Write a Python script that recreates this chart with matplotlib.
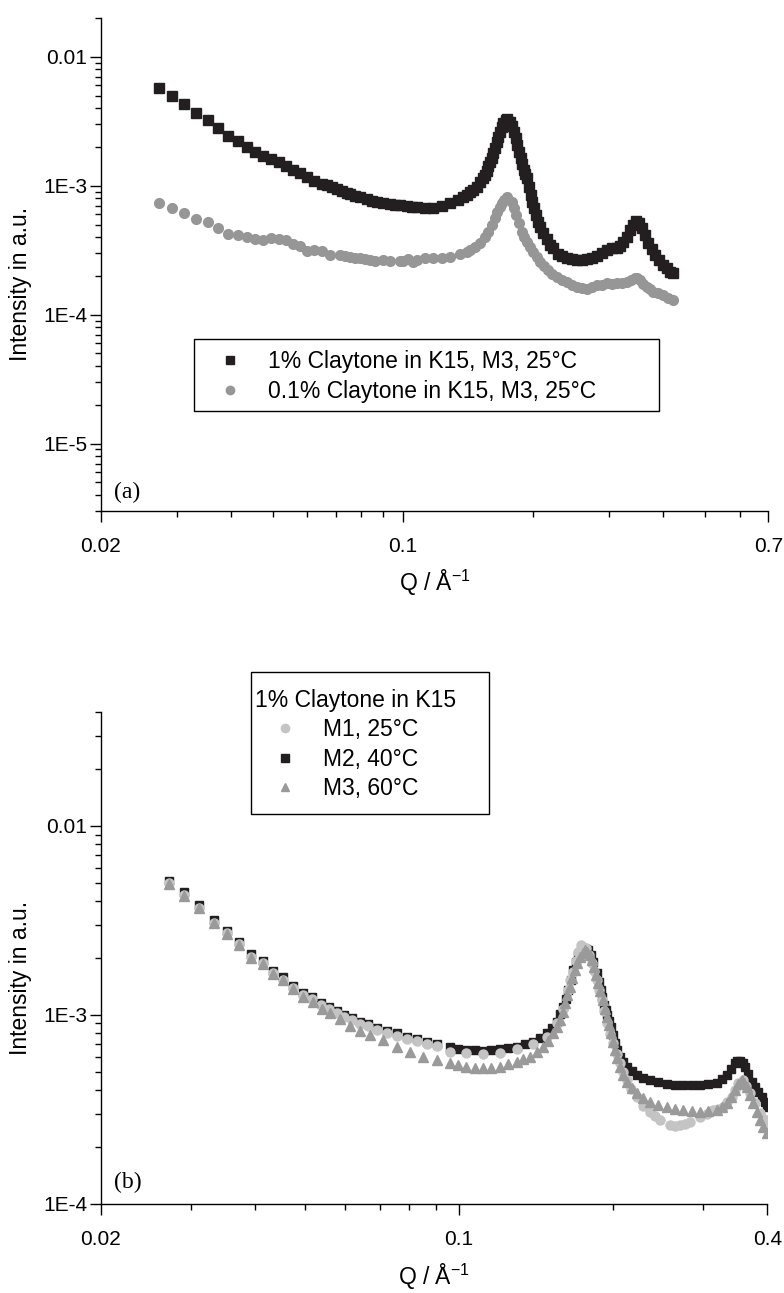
import numpy as np
import matplotlib
matplotlib.use("Agg")
import matplotlib.pyplot as plt
from matplotlib.lines import Line2D
from matplotlib.patches import Rectangle
from matplotlib.ticker import LogLocator, NullFormatter

plt.rcParams['font.family'] = ['Liberation Sans', 'DejaVu Sans']
plt.rcParams['mathtext.fontset'] = 'custom'
plt.rcParams['mathtext.rm'] = 'Liberation Sans'
plt.rcParams['mathtext.default'] = 'regular'

# ---- panel (a): 1% and 0.1% Claytone in K15, M3, 25 C ----
q_a1 = [0.0273, 0.0292, 0.0311, 0.0331, 0.0353, 0.0373, 0.0393, 0.0414, 0.0435, 0.0455,
        0.0475, 0.0495, 0.0515, 0.0536, 0.0557, 0.0577, 0.0598, 0.0622, 0.0648, 0.0665,
        0.0683, 0.0702, 0.0721, 0.0740, 0.0753, 0.0774, 0.0795, 0.0823, 0.0845, 0.0868,
        0.0899, 0.0932, 0.0957, 0.0983, 0.1019, 0.1046, 0.1074, 0.1123, 0.1174, 0.1228,
        0.1283, 0.1341, 0.1378, 0.1403, 0.1427, 0.1453, 0.1479, 0.1506, 0.1533, 0.1545,
        0.1561, 0.1574, 0.1588, 0.1603, 0.1616, 0.1631, 0.1646, 0.1660, 0.1675, 0.1690,
        0.1705, 0.1729, 0.1742, 0.1766, 0.1786, 0.1804, 0.1821, 0.1837, 0.1854, 0.1870,
        0.1887, 0.1904, 0.1917, 0.1931, 0.1951, 0.1972, 0.1990, 0.2007, 0.2029, 0.2054,
        0.2073, 0.2109, 0.2148, 0.2186, 0.2226, 0.2285, 0.2335, 0.2390, 0.2454, 0.2520,
        0.2588, 0.2658, 0.2729, 0.2804, 0.2879, 0.2957, 0.3036, 0.3119, 0.3173, 0.3231,
        0.3289, 0.3347, 0.3406, 0.3456, 0.3506, 0.3563, 0.3625, 0.3690, 0.3757, 0.3824,
        0.3914, 0.3996, 0.4070, 0.4142, 0.4216]
i_a1 = [5.77e-3, 4.98e-3, 4.31e-3, 3.65e-3, 3.22e-3, 2.79e-3, 2.45e-3, 2.24e-3, 2.01e-3, 1.83e-3,
        1.70e-3, 1.62e-3, 1.52e-3, 1.41e-3, 1.32e-3, 1.25e-3, 1.16e-3, 1.09e-3, 1.04e-3, 1.01e-3,
        9.77e-4, 9.43e-4, 9.15e-4, 8.83e-4, 8.57e-4, 8.37e-4, 8.12e-4, 7.84e-4, 7.65e-4, 7.47e-4,
        7.30e-4, 7.17e-4, 7.08e-4, 7.04e-4, 6.91e-4, 6.87e-4, 6.80e-4, 6.71e-4, 6.75e-4, 6.95e-4,
        7.30e-4, 7.74e-4, 8.17e-4, 8.47e-4, 8.88e-4, 9.26e-4, 9.82e-4, 1.06e-3, 1.14e-3, 1.21e-3,
        1.30e-3, 1.41e-3, 1.54e-3, 1.63e-3, 1.78e-3, 1.95e-3, 2.20e-3, 2.40e-3, 2.63e-3, 2.87e-3,
        3.05e-3, 3.24e-3, 3.30e-3, 3.14e-3, 2.93e-3, 2.63e-3, 2.33e-3, 2.07e-3, 1.84e-3, 1.63e-3,
        1.47e-3, 1.32e-3, 1.23e-3, 1.14e-3, 9.83e-4, 8.47e-4, 7.51e-4, 6.67e-4, 5.92e-4, 5.25e-4,
        4.80e-4, 4.27e-4, 3.85e-4, 3.46e-4, 3.26e-4, 2.98e-4, 2.84e-4, 2.73e-4, 2.68e-4, 2.65e-4,
        2.65e-4, 2.68e-4, 2.76e-4, 2.86e-4, 3.02e-4, 3.17e-4, 3.26e-4, 3.30e-4, 3.42e-4, 3.67e-4,
        4.02e-4, 4.53e-4, 4.95e-4, 5.32e-4, 5.10e-4, 4.67e-4, 4.14e-4, 3.57e-4, 3.22e-4, 2.89e-4,
        2.65e-4, 2.42e-4, 2.28e-4, 2.15e-4, 2.09e-4]

q_a2 = [0.0273, 0.0292, 0.0311, 0.0331, 0.0353, 0.0373, 0.0393, 0.0414, 0.0435, 0.0455,
        0.0475, 0.0495, 0.0515, 0.0536, 0.0557, 0.0577, 0.0598, 0.0622, 0.0648, 0.0677,
        0.0714, 0.0734, 0.0753, 0.0774, 0.0794, 0.0816, 0.0838, 0.0861, 0.0899, 0.0932,
        0.0983, 0.1001, 0.1028, 0.1055, 0.1074, 0.1123, 0.1174, 0.1228, 0.1283, 0.1353,
        0.1402, 0.1427, 0.1466, 0.1506, 0.1547, 0.1574, 0.1602, 0.1631, 0.1651, 0.1675,
        0.1693, 0.1711, 0.1742, 0.1783, 0.1805, 0.1829, 0.1854, 0.1879, 0.1903, 0.1931,
        0.1965, 0.2000, 0.2036, 0.2073, 0.2117, 0.2167, 0.2214, 0.2264, 0.2326, 0.2390,
        0.2454, 0.2520, 0.2588, 0.2658, 0.2729, 0.2804, 0.2879, 0.2957, 0.3036, 0.3119,
        0.3201, 0.3289, 0.3358, 0.3438, 0.3481, 0.3530, 0.3594, 0.3659, 0.3724, 0.3790,
        0.3893, 0.3996, 0.4107, 0.4216]
i_a2 = [7.38e-4, 6.75e-4, 6.17e-4, 5.51e-4, 5.20e-4, 4.67e-4, 4.19e-4, 4.14e-4, 3.97e-4, 3.83e-4,
        3.79e-4, 3.90e-4, 3.85e-4, 3.79e-4, 3.50e-4, 3.42e-4, 3.11e-4, 3.18e-4, 3.13e-4, 2.89e-4,
        2.89e-4, 2.84e-4, 2.81e-4, 2.76e-4, 2.73e-4, 2.69e-4, 2.65e-4, 2.63e-4, 2.64e-4, 2.63e-4,
        2.61e-4, 2.60e-4, 2.69e-4, 2.57e-4, 2.65e-4, 2.73e-4, 2.73e-4, 2.76e-4, 2.81e-4, 2.93e-4,
        3.07e-4, 3.17e-4, 3.36e-4, 3.57e-4, 4.02e-4, 4.40e-4, 4.95e-4, 5.58e-4, 6.21e-4, 6.87e-4,
        7.30e-4, 7.74e-4, 8.21e-4, 7.52e-4, 6.67e-4, 5.92e-4, 5.10e-4, 4.40e-4, 4.02e-4, 3.67e-4,
        3.36e-4, 3.07e-4, 2.81e-4, 2.57e-4, 2.38e-4, 2.21e-4, 2.08e-4, 1.96e-4, 1.87e-4, 1.79e-4,
        1.71e-4, 1.64e-4, 1.61e-4, 1.59e-4, 1.63e-4, 1.69e-4, 1.71e-4, 1.75e-4, 1.74e-4, 1.75e-4,
        1.77e-4, 1.79e-4, 1.85e-4, 1.93e-4, 1.91e-4, 1.85e-4, 1.74e-4, 1.64e-4, 1.57e-4, 1.50e-4,
        1.46e-4, 1.42e-4, 1.35e-4, 1.29e-4]

labels_a = ["1% Claytone in K15, M3, 25°C", "0.1% Claytone in K15, M3, 25°C"]

# ---- panel (b): 1% Claytone in K15, M1/M2/M3 ----
q_m1 = [0.02718, 0.02908, 0.03111, 0.03323, 0.03519, 0.03713, 0.03919, 0.04148, 0.04338, 0.04538,
        0.04747, 0.04951, 0.05170, 0.05370, 0.05573, 0.05769, 0.05969, 0.06172, 0.06406, 0.06649,
        0.06905, 0.07222, 0.07553, 0.0790, 0.0826, 0.0865, 0.0904, 0.0960, 0.1034, 0.1115,
        0.1202, 0.1296, 0.1396, 0.1483, 0.1550, 0.1597, 0.1633, 0.1650, 0.1670, 0.1689,
        0.1708, 0.1734, 0.1769, 0.1790, 0.1815, 0.1836, 0.1856, 0.1877, 0.1898, 0.1920,
        0.1941, 0.1970, 0.2000, 0.2030, 0.2061, 0.2090, 0.2124, 0.2170, 0.2222, 0.2290,
        0.2358, 0.2410, 0.2467, 0.2580, 0.2640, 0.2700, 0.2760, 0.2823, 0.2953, 0.3050,
        0.3134, 0.3200, 0.3279, 0.3340, 0.3404, 0.3460, 0.3508, 0.3588, 0.3640, 0.3696,
        0.3780, 0.3867, 0.3930, 0.3990]
i_m1 = [4.97e-3, 4.32e-3, 3.70e-3, 3.08e-3, 2.71e-3, 2.37e-3, 2.03e-3, 1.87e-3, 1.66e-3, 1.53e-3,
        1.38e-3, 1.27e-3, 1.21e-3, 1.13e-3, 1.07e-3, 1.02e-3, 9.70e-4, 9.38e-4, 8.93e-4, 8.69e-4,
        8.30e-4, 8.01e-4, 7.76e-4, 7.45e-4, 7.24e-4, 7.00e-4, 6.80e-4, 6.38e-4, 6.25e-4, 6.20e-4,
        6.30e-4, 6.56e-4, 7.00e-4, 7.66e-4, 9.02e-4, 1.08e-3, 1.35e-3, 1.52e-3, 1.69e-3, 1.93e-3,
        2.16e-3, 2.34e-3, 2.25e-3, 2.08e-3, 1.87e-3, 1.70e-3, 1.53e-3, 1.36e-3, 1.20e-3, 1.05e-3,
        9.02e-4, 7.90e-4, 7.06e-4, 6.20e-4, 5.53e-4, 5.00e-4, 4.52e-4, 4.05e-4, 3.68e-4, 3.30e-4,
        3.07e-4, 2.90e-4, 2.77e-4, 2.61e-4, 2.58e-4, 2.61e-4, 2.65e-4, 2.72e-4, 2.89e-4, 3.00e-4,
        3.13e-4, 3.18e-4, 3.26e-4, 3.45e-4, 3.68e-4, 3.98e-4, 4.34e-4, 4.52e-4, 4.20e-4, 3.84e-4,
        3.40e-4, 3.01e-4, 2.80e-4, 2.66e-4]

q_m2 = [0.02718, 0.02908, 0.03111, 0.03323, 0.03519, 0.03713, 0.03919, 0.04148, 0.04338, 0.04538,
        0.04747, 0.04951, 0.05170, 0.05370, 0.05573, 0.05769, 0.05969, 0.06172, 0.06406, 0.06649,
        0.06905, 0.07222, 0.07553, 0.0790, 0.0826, 0.0865, 0.0904, 0.0960, 0.0997, 0.1034,
        0.1074, 0.1115, 0.1157, 0.1202, 0.1247, 0.1296, 0.1344, 0.1396, 0.1438, 0.1483,
        0.1516, 0.1550, 0.1573, 0.1597, 0.1614, 0.1633, 0.1651, 0.1670, 0.1689, 0.1708,
        0.1727, 0.1747, 0.1769, 0.1787, 0.1806, 0.1828, 0.1856, 0.1872, 0.1890, 0.1904,
        0.1918, 0.1932, 0.1947, 0.1962, 0.1977, 0.1994, 0.2015, 0.2036, 0.2061, 0.2092,
        0.2124, 0.2172, 0.2222, 0.2289, 0.2358, 0.2448, 0.2542, 0.2638, 0.2740, 0.2844,
        0.2953, 0.3065, 0.3183, 0.3256, 0.3329, 0.3393, 0.3455, 0.3492, 0.3535, 0.3577,
        0.3614, 0.3668, 0.3725, 0.3781, 0.3837, 0.3897, 0.3954, 0.3990]
i_m2 = [5.13e-3, 4.45e-3, 3.82e-3, 3.18e-3, 2.79e-3, 2.44e-3, 2.09e-3, 1.93e-3, 1.71e-3, 1.58e-3,
        1.42e-3, 1.30e-3, 1.25e-3, 1.16e-3, 1.10e-3, 1.05e-3, 9.98e-4, 9.65e-4, 9.19e-4, 8.94e-4,
        8.54e-4, 8.24e-4, 7.98e-4, 7.66e-4, 7.45e-4, 7.20e-4, 7.00e-4, 6.72e-4, 6.59e-4, 6.51e-4,
        6.48e-4, 6.46e-4, 6.51e-4, 6.56e-4, 6.67e-4, 6.78e-4, 6.98e-4, 7.20e-4, 7.57e-4, 7.98e-4,
        8.55e-4, 9.19e-4, 1.01e-3, 1.10e-3, 1.22e-3, 1.35e-3, 1.53e-3, 1.73e-3, 1.91e-3, 2.07e-3,
        2.19e-3, 2.25e-3, 2.24e-3, 2.20e-3, 2.07e-3, 1.91e-3, 1.66e-3, 1.50e-3, 1.35e-3, 1.24e-3,
        1.13e-3, 1.06e-3, 9.98e-4, 9.31e-4, 8.65e-4, 7.82e-4, 7.06e-4, 6.51e-4, 6.00e-4, 5.60e-4,
        5.31e-4, 5.04e-4, 4.80e-4, 4.65e-4, 4.52e-4, 4.39e-4, 4.30e-4, 4.27e-4, 4.25e-4, 4.23e-4,
        4.25e-4, 4.28e-4, 4.37e-4, 4.55e-4, 4.80e-4, 5.14e-4, 5.53e-4, 5.67e-4, 5.71e-4, 5.58e-4,
        5.31e-4, 4.86e-4, 4.42e-4, 4.16e-4, 3.92e-4, 3.68e-4, 3.46e-4, 3.25e-4]

q_m3 = [0.02718, 0.02908, 0.03111, 0.03323, 0.03519, 0.03713, 0.03919, 0.04148, 0.04338, 0.04538,
        0.04747, 0.04965, 0.0519, 0.05392, 0.05598, 0.05855, 0.06124, 0.06406, 0.0670, 0.07112,
        0.07553, 0.08018, 0.08512, 0.0904, 0.0960, 0.0997, 0.1034, 0.1074, 0.1115, 0.1157,
        0.1202, 0.1247, 0.1296, 0.1334, 0.1375, 0.1417, 0.1461, 0.1493, 0.1527, 0.1550,
        0.1574, 0.1593, 0.1609, 0.1626, 0.1646, 0.1663, 0.1683, 0.1702, 0.1722, 0.1743,
        0.1761, 0.1780, 0.1801, 0.1817, 0.1834, 0.1850, 0.1869, 0.1886, 0.1907, 0.1923,
        0.1941, 0.1958, 0.1977, 0.1994, 0.2015, 0.2036, 0.2061, 0.2092, 0.2124, 0.2172,
        0.2222, 0.2289, 0.2358, 0.2448, 0.2542, 0.2638, 0.2740, 0.2844, 0.2953, 0.3065,
        0.3183, 0.3256, 0.3329, 0.3393, 0.3455, 0.3508, 0.3561, 0.3598, 0.3642, 0.3696,
        0.3752, 0.3808, 0.3867, 0.3926, 0.3984]
i_m3 = [4.93e-3, 4.28e-3, 3.67e-3, 3.06e-3, 2.68e-3, 2.34e-3, 2.01e-3, 1.85e-3, 1.64e-3, 1.52e-3,
        1.37e-3, 1.25e-3, 1.17e-3, 1.08e-3, 1.02e-3, 9.47e-4, 8.76e-4, 8.24e-4, 7.82e-4, 7.35e-4,
        6.78e-4, 6.38e-4, 6.00e-4, 5.76e-4, 5.54e-4, 5.42e-4, 5.31e-4, 5.25e-4, 5.21e-4, 5.25e-4,
        5.31e-4, 5.46e-4, 5.64e-4, 5.81e-4, 6.00e-4, 6.35e-4, 6.78e-4, 7.30e-4, 7.98e-4, 8.65e-4,
        9.39e-4, 1.04e-3, 1.15e-3, 1.27e-3, 1.41e-3, 1.56e-3, 1.73e-3, 1.87e-3, 2.03e-3, 2.13e-3,
        2.20e-3, 2.16e-3, 2.07e-3, 1.95e-3, 1.80e-3, 1.62e-3, 1.47e-3, 1.33e-3, 1.20e-3, 1.08e-3,
        9.77e-4, 8.83e-4, 7.98e-4, 7.21e-4, 6.51e-4, 5.88e-4, 5.31e-4, 4.80e-4, 4.42e-4, 4.08e-4,
        3.84e-4, 3.61e-4, 3.46e-4, 3.33e-4, 3.26e-4, 3.18e-4, 3.13e-4, 3.09e-4, 3.07e-4, 3.09e-4,
        3.13e-4, 3.24e-4, 3.40e-4, 3.68e-4, 4.00e-4, 4.30e-4, 4.52e-4, 4.37e-4, 4.16e-4, 3.76e-4,
        3.40e-4, 3.07e-4, 2.77e-4, 2.56e-4, 2.36e-4]

legend_title_b = "1% Claytone in K15"
labels_b = ["M1, 25°C", "M2, 40°C", "M3, 60°C"]

BLACK = '#231f20'
GRAY_A = '#969696'
LIGHT = '#c4c4c4'
MID = '#9a9a9a'
FS = 16.5


def style_axes(ax, ylim, xlim, yticks, yticklabels, xticks, xticklabels):
    ax.set_xscale('log')
    ax.set_yscale('log')
    ax.set_xlim(*xlim)
    ax.set_ylim(*ylim)
    ax.spines['top'].set_visible(False)
    ax.spines['right'].set_visible(False)
    for s in ('left', 'bottom'):
        ax.spines[s].set_linewidth(1.0)
    ax.set_xticks(xticks, xticklabels)
    ax.set_yticks(yticks, yticklabels)
    ax.xaxis.set_minor_locator(LogLocator(base=10, subs=np.arange(2, 10), numticks=30))
    ax.yaxis.set_minor_locator(LogLocator(base=10, subs=np.arange(2, 10), numticks=30))
    ax.xaxis.set_minor_formatter(NullFormatter())
    ax.yaxis.set_minor_formatter(NullFormatter())
    ax.tick_params(which='major', direction='out', length=8, width=1.0, labelsize=15)
    ax.tick_params(which='minor', direction='out', length=4, width=1.0)
    ax.tick_params(axis='x', which='major', pad=11)
    ax.tick_params(axis='y', which='major', pad=2)
    ax.set_xlabel("Q / Å$^{-1}$", fontsize=16.5)
    ax.set_ylabel("Intensity in a.u.", fontsize=16.5)


fig = plt.figure(figsize=(7.84, 12.93), dpi=100)
ax_a = fig.add_axes([0.1288, 0.6048, 0.8514, 0.3813])
ax_b = fig.add_axes([0.1288, 0.0691, 0.8501, 0.3800])

# panel (a)
ax_a.plot(q_a1, i_a1, ls='none', marker='s', ms=6.5, color=BLACK, mec=BLACK)
ax_a.plot(q_a2, i_a2, ls='none', marker='o', ms=7, color=GRAY_A, mec=GRAY_A)
style_axes(ax_a, (3e-6, 0.02), (0.02, 0.7), [1e-5, 1e-4, 1e-3, 1e-2],
           ['1E-5', '1E-4', '1E-3', '0.01'], [0.02, 0.1, 0.7], ['0.02', '0.1', '0.7'])
ax_a.xaxis.set_label_coords(0.5, -0.116)
ax_a.yaxis.set_label_coords(-0.103, 0.46)
ax_a.text(0.0195, 0.0385, '(a)', transform=ax_a.transAxes, family='Liberation Serif',
          fontsize=17, ha='left', va='center')

ax_a.add_patch(Rectangle((0.1401, 0.2028), 0.696, 0.146, transform=ax_a.transAxes,
                         fill=False, edgecolor='black', linewidth=1.0))
h_a = [Line2D([], [], ls='none', marker='s', ms=5.5, color=BLACK),
       Line2D([], [], ls='none', marker='o', ms=6, color=GRAY_A)]
ax_a.legend(h_a, labels_a, loc='center left', bbox_to_anchor=(0.176, 0.2728),
            frameon=False, borderpad=0, borderaxespad=0, handlelength=1.0,
            handletextpad=1.16, labelspacing=0.29, fontsize=FS)

# panel (b)
ax_b.plot(q_m2, i_m2, ls='none', marker='s', ms=6, color=BLACK, mec=BLACK, zorder=2)
ax_b.plot(q_m1, i_m1, ls='none', marker='o', ms=6.5, color=LIGHT, mec=LIGHT, zorder=3)
ax_b.plot(q_m3, i_m3, ls='none', marker='^', ms=6.5, color=MID, mec=MID, zorder=4)
style_axes(ax_b, (1e-4, 0.04), (0.02, 0.4), [1e-4, 1e-3, 1e-2],
           ['1E-4', '1E-3', '0.01'], [0.02, 0.1, 0.4], ['0.02', '0.1', '0.4'])
ax_b.xaxis.set_label_coords(0.5, -0.118)
ax_b.yaxis.set_label_coords(-0.103, 0.46)
ax_b.text(0.0195, 0.044, '(b)', transform=ax_b.transAxes, family='Liberation Serif',
          fontsize=17, ha='left', va='center')

ax_b.add_patch(Rectangle((0.2258, 0.7930), 0.3563, 0.2882, transform=ax_b.transAxes,
                         fill=False, edgecolor='black', linewidth=1.0, clip_on=False))
h_b = [Line2D([], [], ls='none', marker='o', ms=6, color=LIGHT),
       Line2D([], [], ls='none', marker='s', ms=5.5, color=BLACK),
       Line2D([], [], ls='none', marker='^', ms=6, color=MID)]
leg_b = ax_b.legend(h_b, labels_b, title=legend_title_b, loc='center left',
                    bbox_to_anchor=(0.231, 0.9345), frameon=False, borderpad=0,
                    borderaxespad=0, handlelength=2.62, handletextpad=0.33,
                    labelspacing=0.29, fontsize=FS, title_fontsize=FS,
                    alignment='left')

fig.savefig('out.png', dpi=100)
